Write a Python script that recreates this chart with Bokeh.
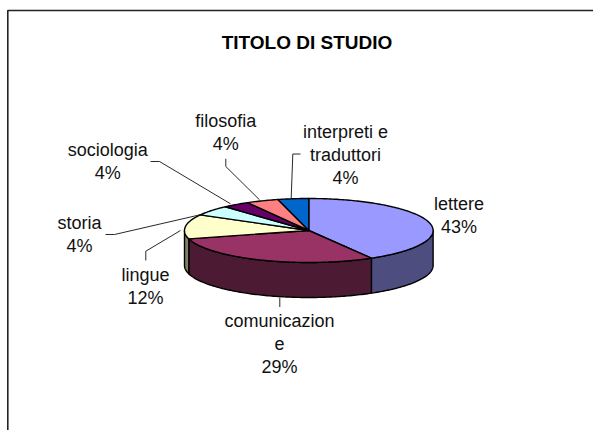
import math
from bokeh.plotting import figure
from bokeh.models import Range1d
from bokeh.core.properties import value
from bokeh.embed import file_html
from bokeh.resources import INLINE

title = "TITOLO DI STUDIO"
categories = ["lettere", "comunicazione", "lingue", "storia", "sociologia", "filosofia", "interpreti e traduttori"]
percent_labels = ["43%", "29%", "12%", "4%", "4%", "4%", "4%"]
# slice sizes as they appear in the picture (perspective shifts them a little)
drawn_shares = [41.6, 29.2, 12.3, 5.2, 3.5, 4.2, 4.0]
top_colors = ["#9999FF", "#993366", "#FFFFCC", "#CCFFFF", "#660066", "#FF8080", "#0066CC"]
side_colors = ["#4D4D80", "#4D1A33", "#808066", "#668080", "#330033", "#804040", "#003366"]
label_lines = [["lettere"], ["comunicazion", "e"], ["lingue"], ["storia"], ["sociologia"], ["filosofia"], ["interpreti e", "traduttori"]]

W, H = 593, 430
p = figure(width=W, height=H, output_backend="svg", toolbar_location=None,
           x_range=Range1d(0, W), y_range=Range1d(H, 0), min_border=0,
           outline_line_color=None, background_fill_color="white", border_fill_color="white")
p.axis.visible = False
p.grid.visible = False

# chart frame (open to the right and bottom of the crop)
p.line([7.3, 7.3, W], [H, 10, 10], line_color="#222222", line_width=1.6)

CX, CY, RX, RY, DEPTH = 308.3, 230, 124.3, 32, 35

def pt(deg, dy=0):
    a = math.radians(deg)
    return CX + RX * math.sin(a), CY - RY * math.cos(a) + dy

def arc(a0, a1, dy=0):
    n = max(2, int(abs(a1 - a0)) + 2)
    return [pt(a0 + (a1 - a0) * i / (n - 1), dy) for i in range(n)]

total = sum(drawn_shares)
edges = [0]
for s in drawn_shares:
    edges.append(edges[-1] + s / total * 360)

# side walls: only the front half of the pie (90..270 degrees) shows
for i in range(len(drawn_shares)):
    a0, a1 = max(edges[i], 90), min(edges[i + 1], 270)
    if a1 <= a0:
        continue
    pts = arc(a0, a1) + arc(a1, a0, DEPTH)
    p.patch([q[0] for q in pts], [q[1] for q in pts], fill_color=side_colors[i],
            line_color="black", line_width=1.4, line_join="round")

# top faces
for i in range(len(drawn_shares)):
    pts = [(CX, CY)] + arc(edges[i], edges[i + 1])
    p.patch([q[0] for q in pts], [q[1] for q in pts], fill_color=top_colors[i],
            line_color="black", line_width=1.4, line_join="round")

# leader lines
leaders = [
    ([105, 114, 203], [234, 234, 213.5]),         # storia
    ([145.3, 145.3, 180], [260, 250.7, 230]),     # lingue
    ([279.3, 279.3], [297, 306.5]),               # comunicazione
    ([150, 159, 230], [161, 161, 203.3]),         # sociologia
    ([225.3, 225.3, 259], [158.3, 166, 199.3]),   # filosofia
    ([300, 292.3, 290.7], [153.5, 153.5, 197.5]), # interpreti
]
for xs, ys in leaders:
    p.line(xs, ys, line_color="#111111", line_width=0.9)

# slice labels
label_pos = {0: (458.5, 203), 1: (279, 320), 2: (145, 274), 3: (79, 222),
             4: (107.3, 149), 5: (225.3, 120), 6: (345, 131)}
FONT = value("Liberation Sans")
for i, lines in enumerate(label_lines):
    x, y = label_pos[i]
    rows = lines + [percent_labels[i]]
    p.text([x] * len(rows), [y + 23 * k for k in range(len(rows))], text=rows,
           text_font=FONT, text_font_size="18px", text_align="center",
           text_baseline="middle", text_color="#111111")

p.text([306.5], [42], text=[title], text_font=FONT, text_font_size="19px",
       text_font_style="bold", text_align="center", text_baseline="middle", text_color="black")

open("out.html", "w").write(file_html(p, INLINE))
